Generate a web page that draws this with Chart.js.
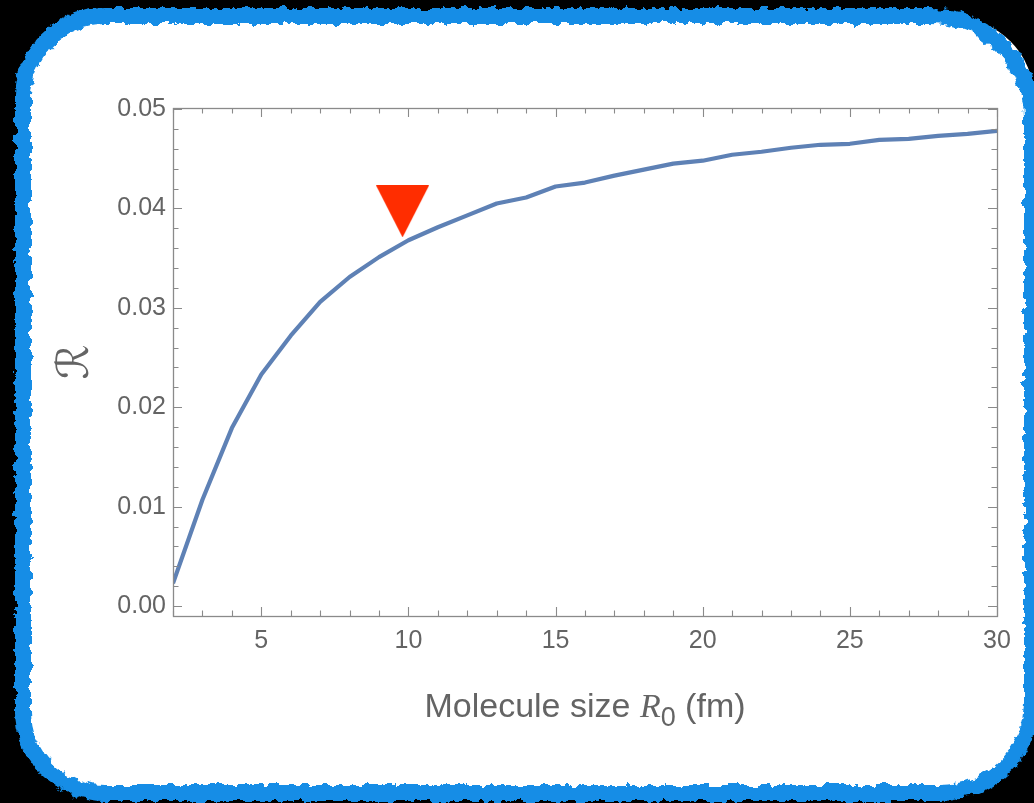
<!DOCTYPE html>
<html>
<head>
<meta charset="utf-8">
<title>Molecule size dependence of ℛ</title>
<script src="https://cdn.jsdelivr.net/npm/chart.js@4.4.1/dist/chart.umd.min.js"></script>
<style>
  html, body { margin: 0; padding: 0; background: #000; width: 1034px; height: 803px; overflow: hidden; }
  #card { position: absolute; left: 24px; top: 18px; width: 1010px; height: 770px; background: #fff; border-radius: 80px; }
  #ring { position: absolute; left: 15px; top: 8px; width: 1025px; height: 793px; box-sizing: border-box;
          border: 16px solid #158de6; border-radius: 90px 110px 100px 90px; filter: url(#rough); }
  #wrap { position: absolute; left: 0; top: 0; width: 1034px; height: 803px; }
</style>
</head>
<body>
<svg width="0" height="0" style="position:absolute">
  <defs>
    <filter id="rough" x="-3%" y="-3%" width="106%" height="106%">
      <feTurbulence type="fractalNoise" baseFrequency="0.11" numOctaves="3" seed="7" result="noise"/>
      <feDisplacementMap in="SourceGraphic" in2="noise" scale="10" xChannelSelector="R" yChannelSelector="G"/>
    </filter>
  </defs>
</svg>
<div id="card"></div>
<div id="ring"></div>
<div id="wrap"><canvas id="chart" width="1034" height="803"></canvas></div>

<script>
// Molecule size R0 (fm) and the ratio ℛ computed at each size
const moleculeSize = [2, 3, 4, 5, 6, 7, 8, 9, 10, 11, 12, 13, 14, 15, 16,
                      17, 18, 19, 20, 21, 22, 23, 24, 25, 26, 27, 28, 29, 30];
const ratioR = [0.0023, 0.0107, 0.0179, 0.0233, 0.0272, 0.0306, 0.0331, 0.0351, 0.0368, 0.0381,
                0.0393, 0.0405, 0.0411, 0.0422, 0.0426, 0.0433, 0.0439, 0.0445, 0.0448, 0.0454,
                0.0457, 0.0461, 0.0464, 0.0465, 0.0469, 0.0470, 0.0473, 0.0475, 0.0478];

// Highlighted molecule size (downward red triangle)
const markerX = [9.8];
const markerY = [0.0397];

// Axis ranges and labelled ticks
const xRange = [2, 30];
const yRange = [-0.001, 0.0501];
const xTickLabels = [5, 10, 15, 20, 25, 30];
const yTickLabels = [0.00, 0.01, 0.02, 0.03, 0.04, 0.05];
const xMinorStep = 1;
const yMinorStep = 0.002;

const TEXT = '#646464';
const FRAME = '#8a8a8a';
const SANS = '"Liberation Sans", Arial, Helvetica, sans-serif';

function downTriangle(w, h, color) {
  const c = document.createElement('canvas');
  c.width = w; c.height = h;
  const g = c.getContext('2d');
  g.fillStyle = color;
  g.beginPath();
  g.moveTo(0, 0); g.lineTo(w, 0); g.lineTo(w / 2, h); g.closePath();
  g.fill();
  return c;
}

// Frame on all four sides with inward major/minor tick marks
const frameTicks = {
  id: 'frameTicks',
  afterDatasetsDraw(chart) {
    const { ctx, chartArea: a, scales: { x, y } } = chart;
    const major = 9, minor = 5.5;
    ctx.save();
    ctx.strokeStyle = FRAME;
    ctx.lineWidth = 1.1;
    ctx.beginPath();
    const nx = Math.round((xRange[1] - xRange[0]) / xMinorStep);
    for (let i = 0; i <= nx; i++) {
      const v = xRange[0] + i * xMinorStep;
      const len = xTickLabels.includes(v) ? major : minor;
      const px = Math.round(x.getPixelForValue(v)) + 0.5;
      ctx.moveTo(px, a.bottom); ctx.lineTo(px, a.bottom - len);
      ctx.moveTo(px, a.top); ctx.lineTo(px, a.top + len);
    }
    const ny = Math.floor((yTickLabels[yTickLabels.length - 1] + 1e-9) / yMinorStep);
    for (let k = 0; k <= ny; k++) {
      const v = k * yMinorStep;
      const len = (k % 5 === 0) ? major : minor;
      const py = Math.round(y.getPixelForValue(v)) + 0.5;
      ctx.moveTo(a.left, py); ctx.lineTo(a.left + len, py);
      ctx.moveTo(a.right, py); ctx.lineTo(a.right - len, py);
    }
    ctx.stroke();
    ctx.lineWidth = 1.3;
    ctx.strokeRect(Math.round(a.left) + 0.5, Math.round(a.top) + 0.5,
                   Math.round(a.right - a.left), Math.round(a.bottom - a.top));
    ctx.restore();
  }
};

// Axis titles: "Molecule size R₀ (fm)" with italic R and subscript 0, and the script ℛ
const axisTitles = {
  id: 'axisTitles',
  afterDraw(chart) {
    const { ctx, chartArea: a } = chart;
    ctx.save();
    ctx.fillStyle = TEXT;
    ctx.textBaseline = 'alphabetic';
    const parts = [
      { t: 'Molecule size ', f: '34px ' + SANS, dy: 0 },
      { t: 'R', f: 'italic 34px "Liberation Serif", "Times New Roman", serif', dy: 0 },
      { t: '0', f: '27px ' + SANS, dy: 9 },
      { t: ' (fm)', f: '34px ' + SANS, dy: 0 }
    ];
    let total = 0;
    parts.forEach(p => { ctx.font = p.f; p.w = ctx.measureText(p.t).width; total += p.w; });
    let cx = (a.left + a.right) / 2 - total / 2;
    const base = a.bottom + 101;
    ctx.textAlign = 'left';
    parts.forEach(p => { ctx.font = p.f; ctx.fillText(p.t, cx, base + p.dy); cx += p.w; });

    ctx.translate(a.left - 96, (a.top + a.bottom) / 2);
    ctx.rotate(-Math.PI / 2);
    ctx.textAlign = 'center';
    ctx.textBaseline = 'middle';
    ctx.font = '44px "DejaVu Sans", "DejaVu Serif", sans-serif';
    ctx.fillText('ℛ', 0, 0);
    ctx.restore();
  }
};

new Chart(document.getElementById('chart'), {
  type: 'scatter',
  data: {
    datasets: [
      {
        label: 'marker',
        data: markerX.map((v, i) => ({ x: v, y: markerY[i] })),
        pointStyle: downTriangle(53, 52, '#ff2d00'),
        pointRadius: 26,
        pointHoverRadius: 26,
        showLine: false,
        clip: false,
        order: 0
      },
      {
        label: 'ℛ',
        data: moleculeSize.map((v, i) => ({ x: v, y: ratioR[i] })),
        showLine: true,
        borderColor: '#5e81b5',
        borderWidth: 4.2,
        pointRadius: 0,
        pointHoverRadius: 0,
        tension: 0,
        borderJoinStyle: 'round',
        borderCapStyle: 'butt',
        fill: false,
        order: 1
      }
    ]
  },
  options: {
    responsive: false,
    animation: false,
    devicePixelRatio: 1,
    events: [],
    layout: { padding: { left: 0, top: 108, right: 37, bottom: 0 } },
    plugins: { legend: { display: false }, tooltip: { enabled: false } },
    scales: {
      x: {
        type: 'linear',
        min: xRange[0],
        max: xRange[1],
        afterBuildTicks: s => { s.ticks = xTickLabels.map(v => ({ value: v })); },
        afterFit: s => { s.height = 187; },
        grid: { display: false, drawTicks: false },
        border: { display: false },
        ticks: {
          color: TEXT,
          font: { family: SANS, size: 25 },
          padding: 10,
          maxRotation: 0,
          autoSkip: false,
          callback: v => String(v)
        }
      },
      y: {
        type: 'linear',
        min: yRange[0],
        max: yRange[1],
        afterBuildTicks: s => { s.ticks = yTickLabels.map(v => ({ value: v })); },
        afterFit: s => { s.width = 173; },
        grid: { display: false, drawTicks: false },
        border: { display: false },
        ticks: {
          color: TEXT,
          font: { family: SANS, size: 25 },
          padding: 7,
          autoSkip: false,
          callback: v => v.toFixed(2)
        }
      }
    }
  },
  plugins: [frameTicks, axisTitles]
});
</script>
</body>
</html>
